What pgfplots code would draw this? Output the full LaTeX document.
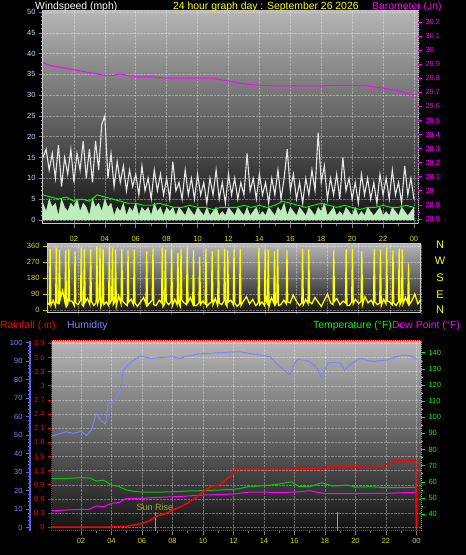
\documentclass[border=0pt]{standalone}
\usepackage{fontspec}
\setmainfont{Liberation Sans}
\usepackage{pgfplots}
\pgfplotsset{compat=1.18}
\definecolor{windlbl}{HTML}{C8DCFF}
\definecolor{yel}{HTML}{FFFF00}
\definecolor{olivey}{HTML}{D8D800}
\definecolor{mag}{HTML}{FF00FF}
\definecolor{humblue}{HTML}{8080FF}
\definecolor{humaxis}{HTML}{6060E0}
\definecolor{tgreen}{HTML}{00FF00}
\definecolor{tline}{HTML}{10C010}
\definecolor{lgreen}{HTML}{BCEEBC}
\definecolor{gust}{HTML}{E6E6E6}
\definecolor{framegray}{HTML}{C8C8C8}
\definecolor{sunol}{HTML}{B0A818}
\definecolor{bgtop}{HTML}{B6B6B6}
\definecolor{bgbot}{HTML}{121212}
\pgfplotsset{
  /pgf/number format/assume math mode=true,
  base/.style={scale only axis, anchor=south west,
    tick label style={font=\fontsize{7.5}{8}\selectfont},
    tick align=outside, major tick length=4pt, minor tick length=2pt},
  panel/.style={base,
    axis background/.style={shade, top color=bgtop, bottom color=bgbot},
    grid=major, major grid style={densely dotted, white, opacity=0.35, line width=0.5pt},
    axis line style={framegray, line width=1pt},
    tick pos=left, tick style={gray, line width=0.6pt}},
  over/.style={base, axis x line=none, axis y line*=right},
  hid/.style={base, axis lines=none}
}
\begin{document}
\begin{tikzpicture}
\path[use as bounding box] (0,0) rectangle (466pt,555pt);
\fill[black] (0,0) rectangle (466pt,555pt);

% ---------------- TOP PANEL: wind ----------------
\begin{axis}[panel, at={(43pt,331pt)}, width=375pt, height=214pt,
  xmin=0, xmax=24.26, ymin=-1, ymax=50.5,
  xtick={2,4,...,24}, xticklabels={02,04,06,08,10,12,14,16,18,20,22,00},
  minor x tick num=1,
  xticklabel style={olivey, yshift=-5pt},
  ytick={0,5,...,50}, minor y tick num=4,
  yticklabel style={windlbl}]
\addplot[fill=lgreen, draw=lgreen, line width=0.4pt] coordinates {
(0,4)(0.2,2)(0.4,5)(0.6,3)(0.8,4)(1,1)(1.2,5)(1.4,3)(1.6,2)(1.8,4)(2,3)(2.2,5)(2.4,2)(2.6,4)(2.8,3)(3,1)(3.2,5)(3.4,3)(3.6,4)(3.8,2)(4,5)
(4.2,3)(4.4,4)(4.6,1)(4.8,3)(5,2)(5.2,4)(5.4,1)(5.6,3)(5.8,2)(6,4)(6.2,1)(6.4,3)(6.6,2)(6.8,3)(7,1)(7.2,4)(7.4,2)(7.6,3)(7.8,1)(8,3)
(8.2,2)(8.4,3)(8.6,1)(8.8,3)(9,2)(9.2,1)(9.4,3)(9.6,2)(9.8,1)(10,3)(10.2,2)(10.4,1)(10.6,3)(10.8,1)(11,2)(11.2,3)(11.4,1)(11.6,2)(11.8,1)(12,3)
(12.2,2)(12.4,1)(12.6,3)(12.8,2)(13,1)(13.2,3)(13.4,1)(13.6,2)(13.8,3)(14,1)(14.2,2)(14.4,1)(14.6,3)(14.8,2)(15,1)(15.2,3)(15.4,2)(15.6,4)(15.8,1)(16,3)
(16.2,2)(16.4,1)(16.6,3)(16.8,2)(17,1)(17.2,3)(17.4,2)(17.6,1)(17.8,3)(18,2)(18.2,4)(18.4,1)(18.6,2)(18.8,3)(19,1)(19.2,2)(19.4,1)(19.6,3)(19.8,2)(20,1)
(20.2,3)(20.4,1)(20.6,2)(20.8,1)(21,3)(21.2,2)(21.4,1)(21.6,2)(21.8,3)(22,1)(22.2,2)(22.4,1)(22.6,3)(22.8,2)(23,1)(23.2,3)(23.4,2)(23.6,1)(23.8,2)(24,3)
} \closedcycle;
\addplot[gust, line width=1.1pt] coordinates {
(0,15)(0.2,17)(0.4,12)(0.6,16)(0.8,10)(1,18)(1.2,8)(1.4,15)(1.6,11)(1.8,17)(2,9)(2.2,16)(2.4,12)(2.6,19)(2.8,10)(3,17)(3.2,9)(3.4,19)(3.6,12)(3.8,23)(4,25)(4.2,10)(4.4,16)(4.6,8)(4.8,14)(5,9)(5.2,13)(5.4,7)(5.6,12)(5.8,8)(6,11)(6.2,6)(6.4,13)(6.6,7)(6.8,10)(7,5)(7.2,12)(7.4,7)(7.6,11)(7.8,6)(8,10)(8.2,5)(8.4,14)(8.6,7)(8.8,9)(9,5)(9.2,12)(9.4,6)(9.6,10)(9.8,5)(10,11)(10.2,6)(10.4,9)(10.6,4)(10.8,10)(11,6)(11.2,12)(11.4,5)(11.6,9)(11.8,4)(12,11)(12.2,6)(12.4,10)(12.6,5)(12.8,9)(13,6)(13.2,16)(13.4,7)(13.6,10)(13.8,5)(14,11)(14.2,6)(14.4,9)(14.6,4)(14.8,10)(15,6)(15.2,12)(15.4,5)(15.6,10)(15.8,17)(16,7)(16.2,11)(16.4,5)(16.6,9)(16.8,4)(17,10)(17.2,6)(17.4,12)(17.6,7)(17.8,21)(18,9)(18.2,13)(18.4,5)(18.6,10)(18.8,6)(19,11)(19.2,5)(19.4,15)(19.6,7)(19.8,10)(20,5)(20.2,9)(20.4,4)(20.6,11)(20.8,6)(21,10)(21.2,5)(21.4,9)(21.6,4)(21.8,11)(22,6)(22.2,10)(22.4,5)(22.6,12)(22.8,6)(23,9)(23.2,4)(23.4,13)(23.6,6)(23.8,10)(24,5)
};
\addplot[tgreen, line width=0.9pt] coordinates {
(0,6)(0.5,5.5)(1,5)(1.5,5.5)(2,4.5)(2.5,5)(3,4.5)(3.5,6)(4,5.5)(4.5,5)(5,4.5)(5.5,4)(6,4)(6.5,3.5)(7,3.5)(7.5,4)(8,3.5)(8.5,3)(9,3)(9.5,3.5)(10,3)(10.5,3)(11,2.5)(11.5,3)(12,3)(12.5,3)(13,3.5)(13.5,3)(14,3.5)(14.5,3)(15,3.5)(15.5,4.5)(16,4)(16.5,3.5)(17,3)(17.5,3.5)(18,4)(18.5,3.5)(19,3)(19.5,3.5)(20,3)(20.5,2.5)(21,3)(21.5,3)(22,3.5)(22.5,3)(23,3)(23.5,3.5)(24,3)
};
\end{axis}
\begin{axis}[over, at={(43pt,331pt)}, width=375pt, height=214pt,
  xmin=0, xmax=24.26, ymin=28.764, ymax=30.285,
  ytick={28.8,28.9,29,29.1,29.2,29.3,29.4,29.5,29.6,29.7,29.8,29.9,30,30.1,30.2},
  yticklabels={28.8,28.9,29,29.1,29.2,29.3,29.4,29.5,29.6,29.7,29.8,29.9,30,30.1,30.2},
  minor y tick num=1,
  y axis line style={mag, densely dotted, line width=1pt},
  ytick style={mag, line width=0.6pt},
  yticklabel style={mag}]
\addplot[mag, line width=1pt] coordinates {
(0,29.91)(0.5,29.89)(1,29.88)(1.5,29.87)(2,29.86)(2.5,29.85)(3,29.84)(3.5,29.83)(4,29.82)(4.5,29.82)(5,29.83)(5.5,29.82)(6,29.81)(7,29.81)(8,29.80)(9,29.80)(10,29.80)(11,29.80)(11.5,29.79)(12,29.78)(13,29.76)(14,29.75)(15,29.745)(16,29.745)(17,29.745)(18,29.745)(19,29.75)(20,29.75)(21,29.745)(22,29.73)(23,29.71)(24,29.68)
};
\end{axis}

% ---------------- MIDDLE PANEL: direction ----------------
\begin{axis}[panel, at={(47pt,242pt)}, width=374pt, height=69pt,
  xmin=0, xmax=24, ymin=-17, ymax=371,
  xtick={2,4,...,24}, xticklabels={},
  ytick={0,90,180,270,360}, yticklabels={0,90,180,270,360},
  yticklabel style={olivey}, ytick style={olivey}, xtick style={draw=none}]
\addplot[yel, line width=1.25pt] coordinates {
(0,40)(0.15,30)(0.2,345)(0.25,25)(0.4,55)(0.55,20)(0.6,350)(0.65,40)(0.75,35)(0.8,340)(0.85,60)(1.0,110)
(1.15,45)(1.2,335)(1.25,20)(1.35,35)(1.4,345)(1.45,50)(1.6,50)(1.75,25)(1.8,330)(1.85,40)(2.0,30)
(2.15,55)(2.2,350)(2.25,30)(2.35,20)(2.4,345)(2.45,45)(2.6,65)(2.75,30)(2.8,340)(2.85,50)(3.0,25)
(3.15,40)(3.2,355)(3.25,35)(3.35,60)(3.4,350)(3.45,20)(3.55,45)(3.6,345)(3.65,30)(3.8,45)
(3.95,25)(4.0,355)(4.05,40)(4.15,55)(4.2,350)(4.25,30)(4.35,45)(4.4,340)(4.45,20)(4.6,80)
(4.75,35)(4.8,345)(4.85,50)(5.0,35)(5.15,25)(5.2,335)(5.25,45)(5.4,60)(5.55,30)(5.6,340)(5.65,40)(5.8,20)
(6.0,45)(6.2,70)(6.35,35)(6.4,330)(6.45,25)(6.6,40)(6.75,55)(6.8,345)(6.85,30)(7.0,25)(7.2,55)
(7.35,40)(7.4,350)(7.45,20)(7.55,35)(7.6,340)(7.65,50)(7.8,30)(7.95,45)(8.0,345)(8.05,25)(8.2,60)
(8.35,30)(8.4,320)(8.45,40)(8.55,20)(8.6,345)(8.65,55)(8.8,40)(8.95,30)(9.0,350)(9.05,45)(9.2,70)
(9.35,35)(9.4,335)(9.45,25)(9.6,25)(9.75,40)(9.8,300)(9.85,30)(10.0,50)(10.15,35)(10.2,345)(10.25,20)(10.4,35)
(10.55,45)(10.6,330)(10.65,30)(10.8,65)(10.95,25)(11.0,340)(11.05,40)(11.2,30)(11.35,50)(11.4,345)(11.45,35)
(11.55,20)(11.6,335)(11.65,45)(11.8,55)(11.95,30)(12.0,340)(12.05,40)(12.2,20)(12.35,35)(12.4,345)(12.45,25)
(12.6,50)(12.8,75)(13.0,35)(13.2,60)(13.4,25)(13.55,40)(13.6,350)(13.65,30)(13.8,45)
(13.95,25)(14.0,345)(14.05,50)(14.15,35)(14.2,340)(14.25,20)(14.4,70)(14.55,40)(14.6,330)(14.65,30)
(14.75,45)(14.8,345)(14.85,25)(15.0,30)(15.2,55)(15.35,35)(15.4,335)(15.45,45)(15.6,40)(15.8,85)
(16.0,50)(16.2,25)(16.35,40)(16.4,345)(16.45,30)(16.6,60)(16.75,35)(16.8,340)(16.85,45)(17.0,35)
(17.2,70)(17.4,45)(17.6,20)(17.8,55)(18.0,90)(18.2,40)(18.35,30)(18.4,335)(18.45,50)(18.6,65)
(18.8,30)(19.0,50)(19.15,40)(19.2,340)(19.25,25)(19.4,25)(19.55,45)(19.6,345)(19.65,35)(19.8,60)
(20.0,35)(20.15,50)(20.2,330)(20.25,30)(20.4,75)(20.6,40)(20.8,55)(20.95,30)(21.0,345)(21.05,45)
(21.2,30)(21.35,40)(21.4,340)(21.45,25)(21.6,60)(21.75,35)(21.8,350)(21.85,50)(22.0,45)
(22.15,30)(22.2,335)(22.25,40)(22.4,25)(22.55,45)(22.6,345)(22.65,30)(22.75,50)(22.8,340)(22.85,35)
(23.0,70)(23.15,40)(23.2,260)(23.25,30)(23.4,50)(23.6,90)(23.8,35)(24.0,60)
};
\end{axis}

% ---------------- BOTTOM PANEL ----------------
\begin{axis}[panel, at={(52pt,24pt)}, width=369pt, height=190pt,
  xmin=0.1, xmax=24.3, ymin=-0.08, ymax=3.95,
  xtick={2,4,...,24}, xticklabels={02,04,06,08,10,12,14,16,18,20,22,00},
  minor x tick num=1,
  xticklabel style={olivey},
  ytick={0,0.3,0.6,0.9,1.2,1.5,1.8,2.1,2.4,2.7,3,3.3,3.6,3.9},
  yticklabels={0,0.3,0.6,0.9,1.2,1.5,1.8,2.1,2.4,2.7,3,3.3,3.6,3.9},
  yticklabel style={red}, ytick style={red, line width=0.6pt},
  y axis line style={red, densely dotted, line width=1pt}]
\end{axis}
% humidity scale axis
\begin{axis}[base, at={(30pt,24pt)}, width=0.5pt, height=190pt,
  xmin=0, xmax=1, ymin=-1.8, ymax=100.9,
  axis x line=none, axis y line*=left,
  ytick={0,10,...,100}, minor y tick num=4,
  y axis line style={humaxis, line width=1.5pt},
  ytick style={humaxis, line width=0.6pt},
  yticklabel style={humblue}]
\end{axis}
% humidity data
\begin{axis}[hid, at={(52pt,24pt)}, width=369pt, height=190pt,
  xmin=0.1, xmax=24.3, ymin=-1.8, ymax=100.9]
\addplot[humblue, line width=1pt] coordinates {
(0.1,49.6)(0.5,50.5)(1,51.8)(1.5,51)(2,52)(2.4,50)(2.7,53)(3.0,61.8)(3.3,58)(3.6,56)(3.8,67)(4.2,68.8)(4.6,74.4)(4.75,85)(5.3,89.7)(5.9,92.8)(6.6,91.5)(7.3,92)(8.0,92.4)(8.5,91.5)(9.0,92.8)(9.7,93.9)(10.5,94.3)(11.5,94.8)(12.4,95.1)(13.3,93.9)(14.4,92.4)(15.0,87.3)(15.4,84.5)(15.7,82.8)(16.0,88.5)(16.2,91)(16.6,90.6)(17.0,89.8)(17.4,87)(17.8,81.6)(18.2,89)(18.6,89.4)(19.0,89)(19.3,85.2)(19.7,88.5)(20.3,91.5)(20.8,90.4)(21.2,89.8)(21.6,90.4)(22.1,90.6)(22.6,92.2)(23.1,93.2)(23.6,92.8)(24,91.5)
};
\end{axis}
% temperature / dew point
\begin{axis}[over, at={(52pt,24pt)}, width=369pt, height=190pt,
  xmin=0.1, xmax=24.3, ymin=29.5, ymax=147.3,
  ytick={40,50,...,140}, minor y tick num=1,
  y axis line style={tgreen, densely dotted, line width=1pt},
  ytick style={tgreen, line width=0.6pt},
  yticklabel style={tgreen}]
\addplot[tline, line width=1pt] coordinates {
(0.1,61.9)(1,62)(2,62.6)(2.6,62.3)(3,60.5)(3.5,61)(4,58)(4.5,57)(5,54.9)(5.5,54)(6,53.6)(7,53.6)(8,53.8)(9,54.3)(10,54.5)(11,54.9)(12,55.3)(12.5,56)(13,57)(14,57.6)(15,58.6)(15.8,60)(16.3,57)(17,57)(17.8,59.4)(18.5,57.4)(19.5,58)(20,56.7)(21,57)(22,56.3)(23,56.4)(24,56.6)
};
\addplot[mag, line width=1pt] coordinates {
(0.1,42.1)(1,42.5)(2,42.9)(2.5,42.8)(3,45)(3.5,44.6)(4,46.6)(4.5,47.2)(5,49.7)(6,49.8)(7,50.3)(8,50.7)(9,51.2)(10,51.8)(11,52.1)(12,52.4)(13,53.6)(14,53.6)(15,53.4)(16,53.6)(17,54.5)(18,52.6)(19,52.6)(20,52.6)(21,52.8)(22,52.8)(23,53.2)(24,53.4)
};
\end{axis}
% rainfall data + sun markers
\begin{axis}[hid, at={(52pt,24pt)}, width=369pt, height=190pt,
  xmin=0.1, xmax=24.3, ymin=-0.08, ymax=3.95]
\addplot[sunol, line width=1pt] coordinates {(6.9,-0.08)(6.9,0.32)};
\addplot[sunol, line width=1pt] coordinates {(18.85,-0.08)(18.85,0.32)};
\node[sunol, font=\fontsize{9}{10}\selectfont] at (axis cs:6.85,0.42) {Sun Rise};
\addplot[red, line width=1.5pt] coordinates {
(0.1,0)(4.0,0)(4.1,0.02)(5.0,0.02)(5.3,0.04)(6.0,0.08)(6.5,0.14)(7.0,0.24)(7.5,0.28)(8.0,0.36)(8.5,0.43)(9.0,0.51)(9.5,0.62)(10.0,0.75)(10.5,0.86)(11.0,0.89)(11.3,0.95)(11.6,1.04)(11.9,1.10)(12.1,1.23)(16.0,1.23)(16.05,1.25)(18.0,1.25)(18.05,1.28)(20.4,1.28)(20.45,1.30)(21.9,1.30)(22.0,1.34)(22.4,1.36)(22.6,1.41)(23.95,1.42)(24.0,0)
};
\end{axis}

% ---------------- TEXTS ----------------
\begin{scope}[every node/.style={font=\fontsize{10.4}{12}\selectfont, inner sep=0pt}]
\node[white, anchor=base west] at (35pt,545.5pt) {Windspeed (mph)};
\node[yel, anchor=base west] at (173pt,545.5pt) {24 hour graph day : September 26 2026};
\node[mag, anchor=base west] at (372pt,545.5pt) {Barometer (.in)};
\node[red, anchor=base west] at (0pt,226pt) {Rainfall (.in)};
\node[humblue, anchor=base west] at (67pt,226pt) {Humidity};
\node[tgreen, anchor=base west] at (313pt,226pt) {Temperature (°F)};
\node[mag, anchor=base west] at (392pt,226pt) {Dew Point (°F)};
\end{scope}
\begin{scope}[every node/.style={font=\fontsize{11}{12}\selectfont, inner sep=0pt, yel}]
\node at (440pt,310pt) {N};
\node at (440pt,294.3pt) {W};
\node at (440pt,277pt) {S};
\node at (440pt,260pt) {E};
\node at (440pt,245pt) {N};
\end{scope}
\end{tikzpicture}
\end{document}
